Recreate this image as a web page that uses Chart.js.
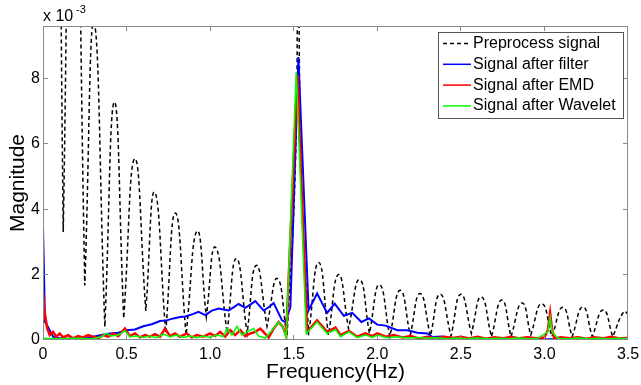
<!DOCTYPE html>
<html>
<head>
<meta charset="utf-8">
<script src="https://cdn.jsdelivr.net/npm/chart.js@4.4.1/dist/chart.umd.min.js"></script>
<style>
  html, body { margin: 0; padding: 0; background: #fff; }
  canvas { display: block; }
</style>
</head>
<body>
<canvas id="spectrumChart" width="641" height="385"></canvas>
<script>
// magnitudes are in units of 1e-3 (axis shows "x 10^-3")
const preFreq = [0, 0.08, 0.121, 0.18, 0.25, 0.305, 0.37, 0.427, 0.483, 0.549, 0.615, 0.668, 0.734, 0.792, 0.856, 0.922, 0.977, 1.031, 1.101, 1.157, 1.221, 1.276, 1.34, 1.402, 1.46, 1.508, 1.527, 1.545, 1.589, 1.649, 1.708, 1.768, 1.828, 1.894, 1.953, 2.013, 2.075, 2.137, 2.197, 2.256, 2.318, 2.376, 2.441, 2.5, 2.563, 2.622, 2.683, 2.745, 2.8, 2.866, 2.918, 2.984, 3.045, 3.11, 3.166, 3.23, 3.286, 3.352, 3.409, 3.475, 3.5];
const preMag = [40, 22, 3.3, 20, 1.67, 9.7, 0.4, 7.27, 0.66, 5.54, 0.89, 4.52, 0.22, 3.88, 0.15, 3.33, 0.71, 2.84, 0.22, 2.49, 0.2, 2.28, 0.42, 1.88, 0.12, 5.0, 11, 5.0, 0.15, 2.37, 0.15, 2.0, 0.35, 1.85, 0.2, 1.69, 0.1, 1.52, 0.15, 1.42, 0.12, 1.4, 0.12, 1.4, 0.2, 1.32, 0.1, 1.22, 0.1, 1.13, 0.15, 1.11, 0.1, 1.0, 0.1, 1.01, 0.1, 0.92, 0.1, 0.87, 0.8];

const filterFreq = [0, 0.012, 0.03, 0.06, 0.1, 0.15, 0.2, 0.25, 0.3, 0.35, 0.4, 0.45, 0.5, 0.55, 0.6, 0.65, 0.7, 0.74, 0.78, 0.82, 0.852, 0.9, 0.93, 0.971, 1.01, 1.051, 1.11, 1.14, 1.17, 1.21, 1.24, 1.27, 1.32, 1.35, 1.38, 1.43, 1.45, 1.48, 1.528, 1.589, 1.64, 1.7, 1.745, 1.8, 1.85, 1.905, 1.95, 2.0, 2.05, 2.12, 2.18, 2.24, 2.3, 2.33, 2.39, 2.45, 2.55, 2.7, 2.9, 3.1, 3.3, 3.5];
const filterMag = [3.45, 0.55, 0.4, 0.1, 0.05, 0.04, 0.05, 0.06, 0.1, 0.15, 0.2, 0.22, 0.3, 0.32, 0.42, 0.48, 0.58, 0.6, 0.66, 0.7, 0.72, 0.8, 0.86, 0.76, 0.9, 0.96, 0.9, 1.0, 1.1, 0.98, 1.08, 1.19, 0.9, 1.0, 1.13, 0.6, 0.55, 1.0, 8.65, 0.91, 1.42, 0.83, 1.11, 0.74, 0.83, 0.55, 0.66, 0.47, 0.44, 0.3, 0.3, 0.22, 0.2, 0.09, 0.11, 0.03, 0.02, 0.02, 0.02, 0.02, 0.02, 0.02];

const emdFreq = [0, 0.008, 0.025, 0.04, 0.06, 0.08, 0.1, 0.12, 0.15, 0.18, 0.21, 0.24, 0.27, 0.3, 0.33, 0.36, 0.39, 0.42, 0.45, 0.49, 0.52, 0.55, 0.58, 0.61, 0.64, 0.67, 0.7, 0.73, 0.76, 0.79, 0.82, 0.86, 0.89, 0.92, 0.96, 1.0, 1.03, 1.06, 1.09, 1.12, 1.15, 1.18, 1.21, 1.24, 1.27, 1.3, 1.35, 1.38, 1.41, 1.435, 1.455, 1.522, 1.58, 1.64, 1.7, 1.75, 1.78, 1.83, 1.88, 1.93, 1.97, 2.0, 2.05, 2.1, 2.15, 2.2, 2.25, 2.3, 2.35, 2.4, 2.45, 2.5, 2.55, 2.6, 2.65, 2.7, 2.75, 2.8, 2.85, 2.9, 2.95, 3.0, 3.02, 3.034, 3.046, 3.06, 3.1, 3.15, 3.2, 3.25, 3.3, 3.35, 3.4, 3.45, 3.5];
const emdMag = [1.47, 0.9, 0.36, 0.15, 0.25, 0.1, 0.2, 0.08, 0.15, 0.05, 0.12, 0.08, 0.15, 0.1, 0.05, 0.15, 0.1, 0.2, 0.12, 0.35, 0.12, 0.2, 0.08, 0.15, 0.1, 0.18, 0.1, 0.35, 0.12, 0.2, 0.1, 0.2, 0.08, 0.15, 0.1, 0.2, 0.12, 0.25, 0.1, 0.3, 0.15, 0.3, 0.12, 0.2, 0.25, 0.35, 0.08, 0.35, 0.55, 0.4, 0.12, 8.1, 0.25, 0.6, 0.25, 0.38, 0.15, 0.28, 0.1, 0.2, 0.12, 0.2, 0.1, 0.15, 0.08, 0.12, 0.05, 0.1, 0.05, 0.1, 0.06, 0.1, 0.05, 0.1, 0.04, 0.08, 0.05, 0.1, 0.05, 0.08, 0.05, 0.08, 0.3, 0.83, 0.3, 0.05, 0.08, 0.05, 0.08, 0.04, 0.08, 0.05, 0.1, 0.05, 0.06];

const waveletFreq = [0, 0.1, 0.2, 0.3, 0.35, 0.38, 0.41, 0.45, 0.49, 0.52, 0.56, 0.6, 0.64, 0.68, 0.72, 0.76, 0.8, 0.84, 0.88, 0.92, 0.96, 1.0, 1.04, 1.08, 1.1, 1.13, 1.16, 1.19, 1.22, 1.26, 1.29, 1.33, 1.37, 1.41, 1.435, 1.455, 1.515, 1.575, 1.64, 1.7, 1.75, 1.78, 1.83, 1.88, 1.93, 1.97, 2.0, 2.06, 2.12, 2.18, 2.24, 2.3, 2.36, 2.42, 2.48, 2.54, 2.6, 2.66, 2.72, 2.78, 2.84, 2.9, 2.96, 3.02, 3.034, 3.046, 3.08, 3.14, 3.2, 3.26, 3.32, 3.38, 3.44, 3.5];
const waveletMag = [0.05, 0.04, 0.05, 0.04, 0.1, 0.2, 0.12, 0.15, 0.28, 0.1, 0.12, 0.08, 0.12, 0.07, 0.18, 0.1, 0.15, 0.08, 0.12, 0.07, 0.12, 0.08, 0.15, 0.1, 0.35, 0.15, 0.42, 0.15, 0.25, 0.35, 0.12, 0.06, 0.3, 0.55, 0.4, 0.08, 8.2, 0.2, 0.55, 0.2, 0.32, 0.1, 0.25, 0.08, 0.15, 0.08, 0.15, 0.07, 0.1, 0.06, 0.08, 0.05, 0.07, 0.04, 0.06, 0.04, 0.06, 0.04, 0.05, 0.04, 0.06, 0.04, 0.05, 0.25, 0.69, 0.25, 0.05, 0.04, 0.06, 0.04, 0.05, 0.04, 0.05, 0.04];

const seriesLabels = ["Preprocess signal", "Signal after filter", "Signal after EMD", "Signal after Wavelet"];
const xTitle = "Frequency(Hz)";
const yTitle = "Magnitude";

const fontFamily = "'Liberation Sans', Arial, sans-serif";
Chart.defaults.font.family = fontFamily;
Chart.defaults.color = "#000";

function toPoints(xs, ys) {
  return xs.map((x, i) => ({ x: x, y: ys[i] }));
}

// same points, but every notch is listed twice so the spline
// keeps the sharp bottom of the spectrum lobes (no new values)
function toNotchedPoints(xs, ys) {
  const pts = [];
  xs.forEach((x, i) => {
    pts.push({ x: x, y: ys[i] });
    if (i > 0 && i < xs.length - 1 && ys[i] < ys[i - 1] && ys[i] < ys[i + 1]) {
      pts.push({ x: x, y: ys[i] });
    }
  });
  return pts;
}

// axes box with inward ticks, exponent label and legend, MATLAB style
const matlabAxes = {
  id: "matlabAxes",
  afterDatasetsDraw(chart) {
    const { ctx, chartArea: a, scales } = chart;
    ctx.save();
    ctx.strokeStyle = "#8a8a8a";
    ctx.lineWidth = 1;
    ctx.setLineDash([]);
    ctx.strokeRect(a.left + 0.5, a.top + 0.5, a.right - a.left - 1, a.bottom - a.top - 1);
    ctx.beginPath();
    scales.x.ticks.forEach((t) => {
      let px = Math.floor(scales.x.getPixelForValue(t.value)) + 0.5;
      px = Math.min(Math.max(px, a.left + 0.5), a.right - 0.5);
      ctx.moveTo(px, a.bottom);
      ctx.lineTo(px, a.bottom - 5);
      ctx.moveTo(px, a.top);
      ctx.lineTo(px, a.top + 5);
    });
    scales.y.ticks.forEach((t) => {
      let py = Math.floor(scales.y.getPixelForValue(t.value)) + 0.5;
      py = Math.min(Math.max(py, a.top + 0.5), a.bottom - 0.5);
      ctx.moveTo(a.left, py);
      ctx.lineTo(a.left + 5, py);
      ctx.moveTo(a.right, py);
      ctx.lineTo(a.right - 5, py);
    });
    ctx.stroke();

    ctx.fillStyle = "#000";
    ctx.textBaseline = "alphabetic";
    ctx.textAlign = "left";
    ctx.font = "16px " + fontFamily;
    ctx.fillText("x 10", 43, 21);
    ctx.font = "11px " + fontFamily;
    ctx.fillText("-3", 76, 12.5);
    ctx.restore();
  },
  afterDraw(chart) {
    const ctx = chart.ctx;
    const bx = 438.5, by = 32.5, bw = 185, bh = 86;
    ctx.save();
    ctx.fillStyle = "#fff";
    ctx.fillRect(bx, by, bw, bh);
    ctx.strokeStyle = "#555";
    ctx.lineWidth = 1;
    ctx.strokeRect(bx, by, bw, bh);
    ctx.font = "16px " + fontFamily;
    ctx.textBaseline = "middle";
    ctx.textAlign = "left";
    chart.data.datasets.forEach((ds, i) => {
      const cy = 43.5 + i * 20.8;
      ctx.strokeStyle = ds.borderColor;
      ctx.lineWidth = Math.min(ds.borderWidth, 1.5);
      ctx.setLineDash(ds.borderDash || []);
      ctx.beginPath();
      ctx.moveTo(443, cy);
      ctx.lineTo(471, cy);
      ctx.stroke();
      ctx.setLineDash([]);
      ctx.fillStyle = "#000";
      ctx.fillText(ds.label, 473, cy);
    });
    ctx.restore();
  },
};

const ctx = document.getElementById("spectrumChart").getContext("2d");
const spectrumChart = new Chart(ctx, {
  type: "line",
  data: {
    datasets: [
      {
        label: seriesLabels[0],
        data: toNotchedPoints(preFreq, preMag),
        borderColor: "#000000",
        borderWidth: 1.5,
        borderDash: [4, 3],
        tension: 0.5,
        order: 4,
      },
      {
        label: seriesLabels[1],
        data: toPoints(filterFreq, filterMag),
        borderColor: "#0000ff",
        borderWidth: 2,
        tension: 0,
        order: 3,
      },
      {
        label: seriesLabels[2],
        data: toPoints(emdFreq, emdMag),
        borderColor: "#ff0000",
        borderWidth: 2.5,
        tension: 0,
        order: 2,
      },
      {
        label: seriesLabels[3],
        data: toPoints(waveletFreq, waveletMag),
        borderColor: "#00ff00",
        borderWidth: 1.5,
        tension: 0,
        order: 1,
      },
    ],
  },
  options: {
    responsive: false,
    animation: false,
    layout: { padding: { left: 0, right: 13, top: 26, bottom: 0 } },
    elements: { point: { radius: 0 } },
    plugins: {
      legend: { display: false },
      tooltip: { enabled: false },
    },
    scales: {
      x: {
        type: "linear",
        min: 0,
        max: 3.5,
        grid: { display: false, drawTicks: false },
        border: { display: false },
        ticks: {
          stepSize: 0.5,
          includeBounds: false,
          padding: 5,
          maxRotation: 0,
          font: { size: 16 },
          color: "#000",
        },
        title: {
          display: true,
          text: xTitle,
          font: { size: 21 },
          color: "#000",
          padding: { top: 0, bottom: 0 },
        },
        afterFit: (scale) => {
          scale.height = 45;
          // keep the plot box at its place, edge labels may run into the margin
          scale.paddingLeft = 0;
          scale.paddingRight = 0;
        },
      },
      y: {
        type: "linear",
        min: 0,
        max: 9.6,
        grid: { display: false, drawTicks: false },
        border: { display: false },
        ticks: {
          stepSize: 2,
          includeBounds: false,
          padding: 3,
          font: { size: 16 },
          color: "#000",
        },
        title: {
          display: true,
          text: yTitle,
          font: { size: 21 },
          color: "#000",
          padding: { top: 6, bottom: 0 },
        },
        afterFit: (scale) => {
          scale.width = 43;
          scale.paddingTop = 0;
          scale.paddingBottom = 0;
        },
      },
    },
  },
  plugins: [matlabAxes],
});
</script>
</body>
</html>
